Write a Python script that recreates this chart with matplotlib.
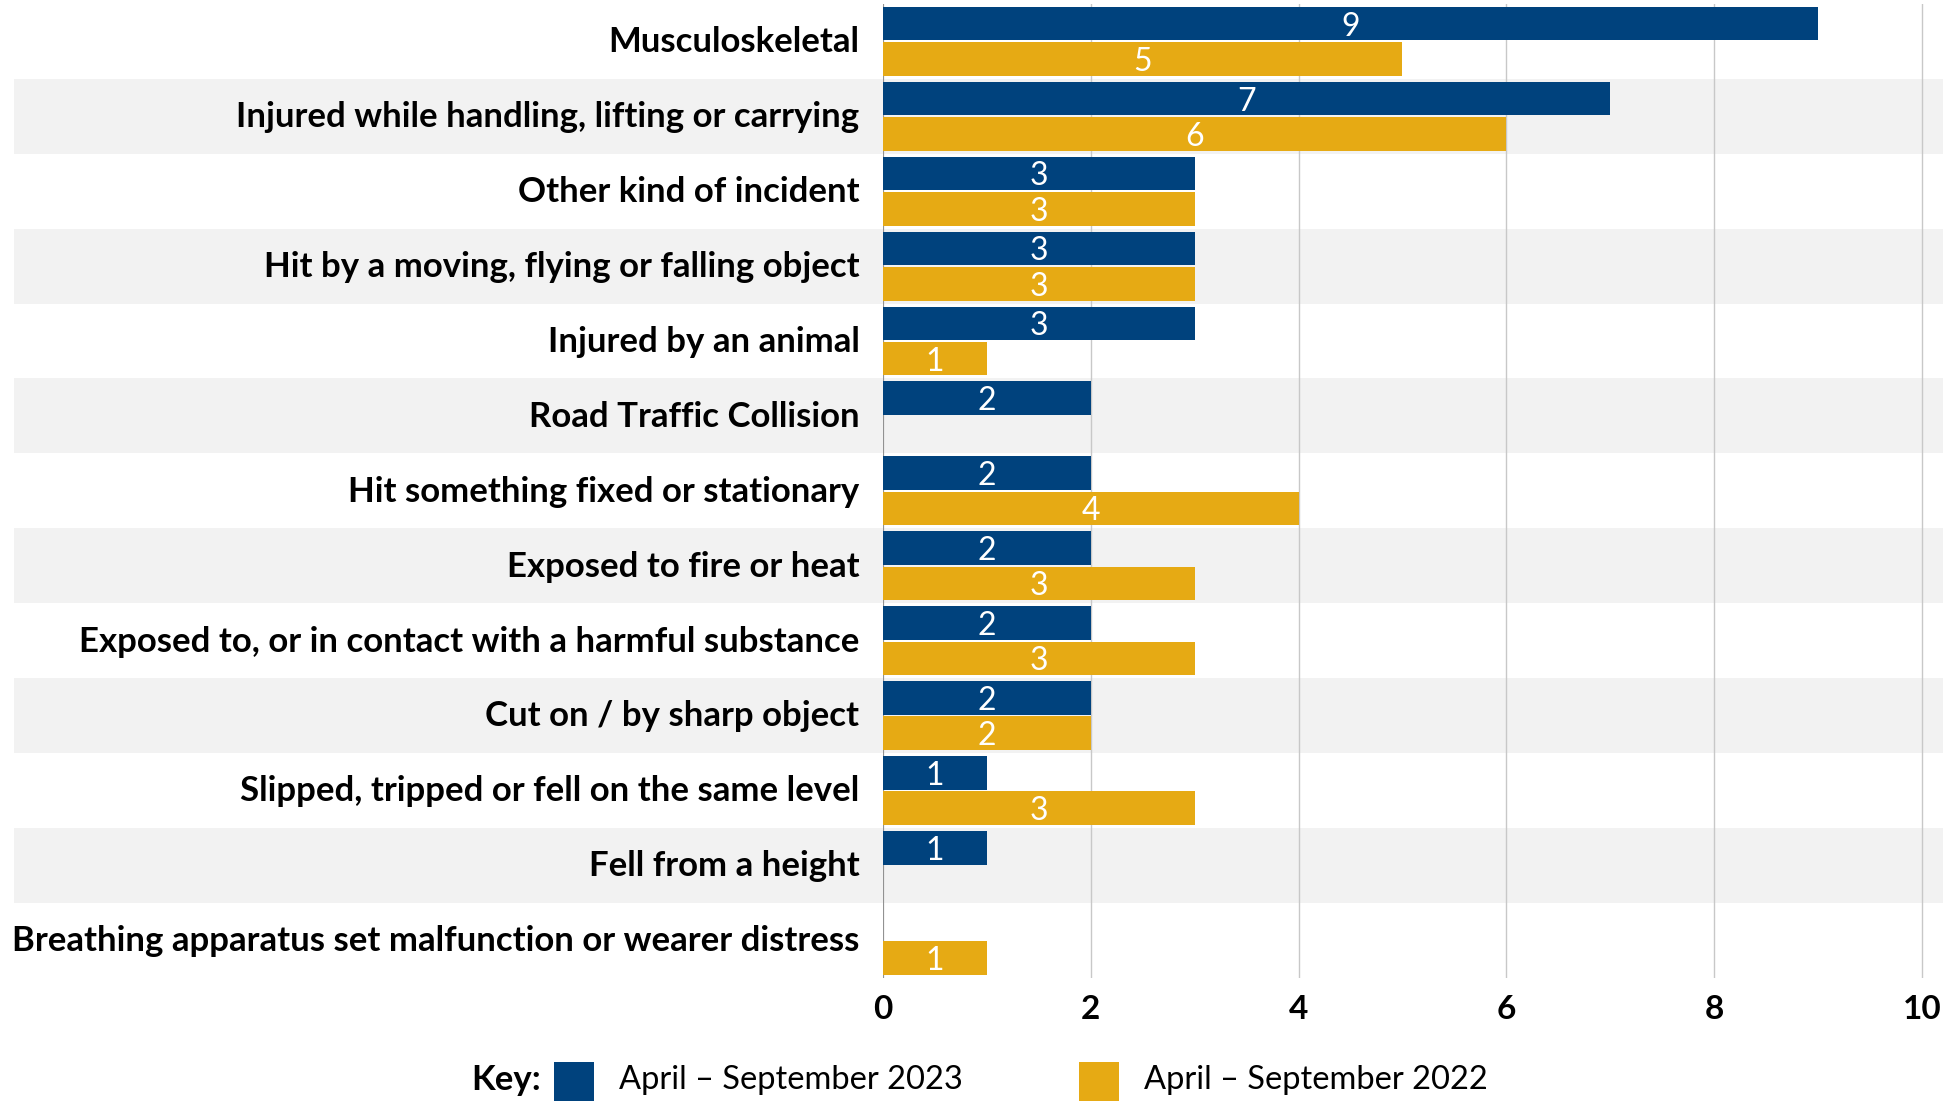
import matplotlib
matplotlib.use("Agg")
import matplotlib.pyplot as plt
from matplotlib.patches import Rectangle
import matplotlib.transforms as mtransforms
import numpy as np

plt.rcParams['font.family'] = ['Lato', 'DejaVu Sans']

categories = [
    "Musculoskeletal",
    "Injured while handling, lifting or carrying",
    "Other kind of incident",
    "Hit by a moving, flying or falling object",
    "Injured by an animal",
    "Road Traffic Collision",
    "Hit something fixed or stationary",
    "Exposed to fire or heat",
    "Exposed to, or in contact with a harmful substance",
    "Cut on / by sharp object",
    "Slipped, tripped or fell on the same level",
    "Fell from a height",
    "Breathing apparatus set malfunction or wearer distress",
]
values_2023 = [9, 7, 3, 3, 3, 2, 2, 2, 2, 2, 1, 1, 0]
values_2022 = [5, 6, 3, 3, 1, 0, 4, 3, 3, 2, 3, 0, 1]
series_names = ["April \u2013 September 2023", "April \u2013 September 2022"]
x_ticks = [0, 2, 4, 6, 8, 10]

BLUE = "#00427D"
YELLOW = "#E6AA14"
BAND = "#F2F2F2"

fig = plt.figure(figsize=(19.59, 11.01), dpi=100)
ax = fig.add_axes([883 / 1959, 1 - 978 / 1101, (1924 - 883) / 1959, (978 - 3.75) / 1101])
ax.patch.set_visible(False)

n = len(categories)
y = np.arange(n)
h = 0.45
off = 0.235

# alternating background bands spanning beyond the axes
trans = mtransforms.blended_transform_factory(fig.transFigure, ax.transData)
for i in range(n):
    if i % 2 == 1:
        r = Rectangle((14 / 1959, i - 0.5), (1943 - 14) / 1959, 1.0, transform=trans,
                      facecolor=BAND, edgecolor='none', zorder=0, clip_on=False)
        ax.add_artist(r)

b1 = ax.barh(y - off, values_2023, height=h, color=BLUE, zorder=3)
b2 = ax.barh(y + off, values_2022, height=h, color=YELLOW, zorder=3)

for bars, vals in ((b1, values_2023), (b2, values_2022)):
    for bar, v in zip(bars, vals):
        if v > 0:
            ax.text(bar.get_x() + bar.get_width() / 2, bar.get_y() + bar.get_height() / 2,
                    str(v), ha='center', va='center_baseline', color='white', fontsize=23, zorder=4)

ax.set_xlim(0, 10.02)
ax.set_ylim(n - 0.5, -0.5)
ax.set_xticks(x_ticks)
ax.set_xticklabels([str(t) for t in x_ticks], fontsize=24, fontweight='bold')
ax.set_yticks(y - 0.03)
ax.set_yticklabels(categories, fontsize=25, fontweight='bold')
ax.tick_params(axis='y', length=0, pad=17)
ax.tick_params(axis='x', length=0, pad=12)
for s in ax.spines.values():
    s.set_visible(False)
ax.grid(axis='x', color='#C8C8C8', linewidth=1, zorder=1)
ax.set_axisbelow(True)
ax.axvline(0, color='#888888', linewidth=1.2, zorder=2)

# legend / key
yc = 1 - 1080 / 1101
fig.text(471 / 1959, yc, "Key:", fontsize=25, fontweight='bold', va='center', ha='left')
fig.patches.append(Rectangle((554 / 1959, 0), 40 / 1959, 39 / 1101, transform=fig.transFigure,
                             facecolor=BLUE, edgecolor='none'))
fig.text(619 / 1959, yc, series_names[0], fontsize=23.5, va='center', ha='left')
fig.patches.append(Rectangle((1079 / 1959, 0), 40 / 1959, 39 / 1101, transform=fig.transFigure,
                             facecolor=YELLOW, edgecolor='none'))
fig.text(1144 / 1959, yc, series_names[1], fontsize=23.5, va='center', ha='left')

fig.savefig("out.png", dpi=100, facecolor='white')
